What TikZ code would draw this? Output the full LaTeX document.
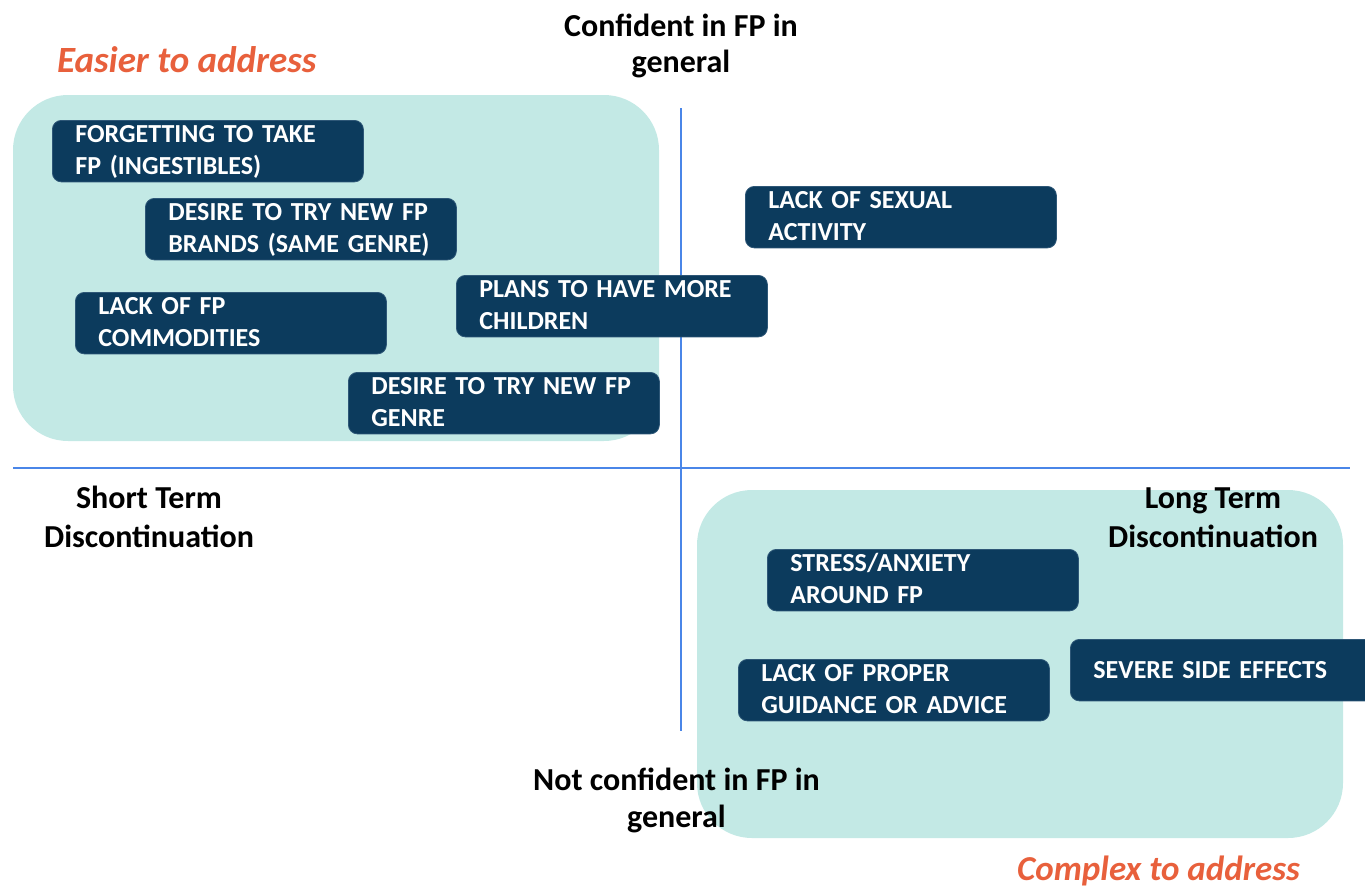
\documentclass[tikz,border=0pt]{standalone}
\usepackage{fontspec}
\setmainfont{Carlito}
\definecolor{navy}{HTML}{0C3B5D}
\definecolor{navyedge}{HTML}{2E5777}
\definecolor{mint}{HTML}{C3E9E5}
\definecolor{axisblue}{HTML}{4A86E8}
\definecolor{accent}{HTML}{E8603C}
\begin{document}
\begin{tikzpicture}[x=1pt,y=-1pt,
  zone/.style={fill=mint, rounded corners=55pt},
  axisline/.style={draw=axisblue, line width=2pt},
  card/.style={anchor=north west, fill=navy, draw=navyedge, line width=0.8pt,
    rounded corners=9pt, text=white, align=left,
    font=\fontsize{26}{31.7}\selectfont\bfseries,
    text width=265pt, inner xsep=23pt, inner ysep=0pt,
    text height=22.5pt, text depth=39pt},
  onecard/.style={card, text height=39pt, text depth=22.5pt},
  axislabel/.style={anchor=base, align=center, text=black, inner sep=0pt,
    font=\fontsize{32}{#1}\selectfont\bfseries},
  zonelabel/.style={anchor=base west, text=accent, inner sep=0pt,
    font=\fontsize{#1}{40}\selectfont\bfseries\itshape}]
\useasboundingbox (0,0) rectangle (1365,887);
\clip (0,0) rectangle (1365,887);

% shaded zones
\fill[zone] (13,95) rectangle (659,441);
\fill[zone] (697,490) rectangle (1343,838);

% axes
\coordinate (hL) at (13,468);
\coordinate (hR) at (1350,468);
\coordinate (vT) at (681,108);
\coordinate (vB) at (681,731);
\draw[axisline] (hL) -- (hR);
\draw[axisline] (vT) -- (vB);

% reasons for discontinuation
\node[card] (forget) at (52,120) {FORGETTING TO TAKE\\FP (INGESTIBLES)};
\node[card] (brands) at (145,198) {DESIRE TO TRY NEW FP\\BRANDS (SAME GENRE)};
\node[card] (commod) at (75,292) {LACK OF FP\\COMMODITIES};
\node[card] (plans) at (456,275) {PLANS TO HAVE MORE\\CHILDREN};
\node[card] (genre) at (348,372) {DESIRE TO TRY NEW FP\\GENRE};
\node[card] (sexual) at (745,186) {LACK OF SEXUAL\\ACTIVITY};
\node[card] (stress) at (767,549) {STRESS/ANXIETY\\AROUND FP};
\node[card] (guide) at (738,659) {LACK OF PROPER\\GUIDANCE OR ADVICE};
\node[onecard] (severe) at (1070,639) {SEVERE SIDE EFFECTS};

% axis labels (anchored on the baseline of their last line)
\node[axislabel=36.7] (top) at (681,72.7) {Confident in FP in\\general};
\node[axislabel=37] (bottom) at (676.5,827.5) {Not confident in FP in\\general};
\node[axislabel=39.7] (left) at (149,547.7) {Short Term\\Discontinuation};
\node[axislabel=39.7] (right) at (1213,547.7) {Long Term\\Discontinuation};

% zone labels
\node[zonelabel=37] (easy) at (57,72.5) {Easier to address};
\node[zonelabel=35] (hard) at (1017,880) {Complex to address};
\end{tikzpicture}
\end{document}
